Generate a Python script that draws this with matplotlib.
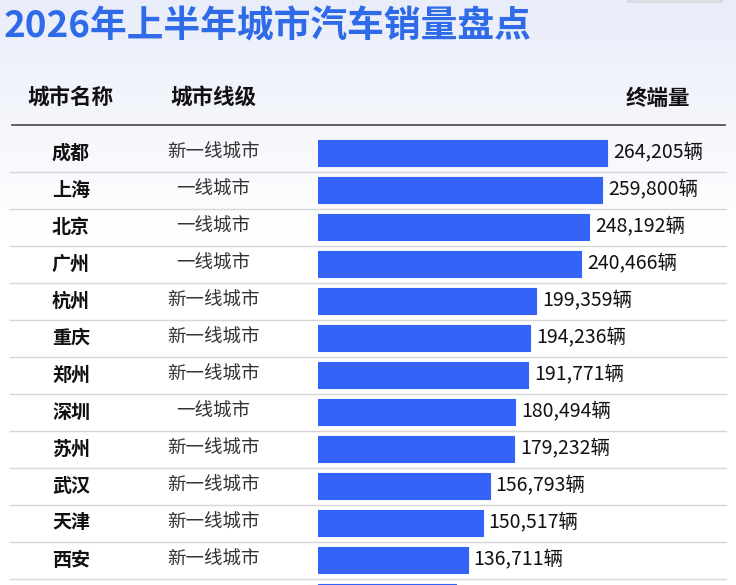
import numpy as np
import matplotlib
matplotlib.use('Agg')
import matplotlib.pyplot as plt
from matplotlib.patches import Rectangle
from matplotlib.transforms import blended_transform_factory, offset_copy

plt.rcParams['font.family'] = ['Noto Sans CJK SC', 'DejaVu Sans']

title = '2026年上半年城市汽车销量盘点'
headers = ['城市名称', '城市线级', '终端量']
cities = ['成都', '上海', '北京', '广州', '杭州', '重庆', '郑州', '深圳', '苏州', '武汉', '天津', '西安', '']
tiers = ['新一线城市', '一线城市', '一线城市', '一线城市', '新一线城市', '新一线城市',
         '新一线城市', '一线城市', '新一线城市', '新一线城市', '新一线城市', '新一线城市', '']
# last row is cut off at the bottom of the picture, only its bar shows
sales = [264205, 259800, 248192, 240466, 199359, 194236, 191771, 180494,
         179232, 156793, 150517, 136711, 126000]

W, H = 736, 585
fig = plt.figure(figsize=(W / 100, H / 100), dpi=100)

# background: soft blue-grey fading to white
bg = fig.add_axes([0, 0, 1, 1], zorder=0)
bg.set_xlim(0, W)
bg.set_ylim(H, 0)
bg.axis('off')
t = np.clip(np.linspace(0, 1, H) / 0.4, 0, 1)[:, None, None]
top = np.array([233, 237, 249]) / 255
grad = top * (1 - t) + np.ones(3) * t
bg.imshow(np.repeat(grad, 2, axis=1), extent=[0, W, H, 0], aspect='auto')
bg.add_patch(Rectangle((627, -4), 96, 7, color='#d9dce3', lw=0))

fig.text(4 / W, 1 - 27 / H, title, fontsize=26.5, weight='heavy', color='#2f6be8',
         ha='left', va='center')

# header
hy = 1 - 98 / H
fig.text(70 / W, hy, headers[0], fontsize=15.5, weight='bold', color='#111111', ha='center', va='center')
fig.text(213 / W, hy, headers[1], fontsize=15.5, weight='bold', color='#111111', ha='center', va='center')
fig.text(690 / W, hy, headers[2], fontsize=15.5, weight='bold', color='#111111', ha='right', va='center')
fig.add_artist(plt.Line2D([12 / W, 725 / W], [1 - 125 / H, 1 - 125 / H], color='#555555', lw=1.3))

# bar axes: row pitch 37 px, first row centred at 153 px
n = len(sales)
pitch = 37
xmax = 300000
ax_w = xmax * 289 / sales[0]
ax = fig.add_axes([318 / W, 1 - (153 + pitch * (n - 0.5)) / H, ax_w / W, pitch * n / H], zorder=1)
ax.set_xlim(0, xmax)
ax.set_ylim(n - 0.5, -0.5)
ax.axis('off')

y = np.arange(n)
ax.barh(y, sales, height=0.70, color='#3364f7', edgecolor='#3364f7', lw=0.8, joinstyle='round')

tr = blended_transform_factory(fig.transFigure, ax.transData)
lab_tr = offset_copy(ax.transData, fig=fig, x=6, y=0, units='dots')
for i in range(n):
    if i < n - 1:
        ax.plot([10 / W, 726 / W], [i + 0.5, i + 0.5], transform=tr, color='#d6d6d6',
                lw=1, clip_on=False)
    if not cities[i]:
        continue
    ax.text(71 / W, i, cities[i], transform=tr, fontsize=13.7, weight='bold',
            color='#111111', ha='center', va='center')
    ax.text(213 / W, i, tiers[i], transform=tr, fontsize=13.3, color='#333333',
            ha='center', va='center')
    ax.text(sales[i], i, f'{sales[i]:,}辆', transform=lab_tr, fontsize=14,
            weight='medium', color='#111111', ha='left', va='center')

fig.savefig('out.png', dpi=100)
